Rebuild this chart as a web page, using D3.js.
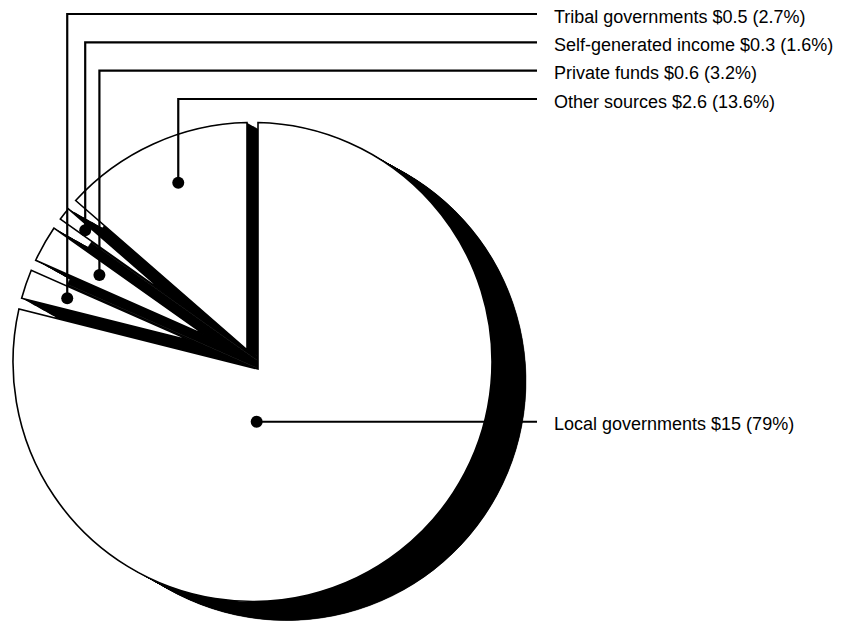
<!DOCTYPE html>
<html><head><meta charset="utf-8">
<script src="https://cdn.jsdelivr.net/npm/d3@7"></script>
<style>html,body{margin:0;padding:0;background:#fff;} svg{display:block}</style>
</head><body>
<svg id="chart" width="853" height="623"></svg>
<script>
// ---- data ----
const categories = ["Local governments", "Tribal governments", "Private funds", "Self-generated income", "Other sources"];
const amounts = ["$15", "$0.5", "$0.6", "$0.3", "$2.6"];
const percents = [79, 2.7, 3.2, 1.6, 13.6];
const percentLabels = ["79%", "2.7%", "3.2%", "1.6%", "13.6%"];
const labelRows = ["Tribal governments", "Self-generated income", "Private funds", "Other sources"];

// ---- layout ----
const W = 853, H = 623;
const cx = 252.5, cy = 362, R = 239.5, PAD = 5.5;
const SHADOW = {dx: 34, dy: 19};
const dotLayout = { // radius fraction and optional absolute angle (deg, clockwise from 12 o'clock)
  "Local governments": {f: 0.25, angle: 176},
  "Tribal governments": {f: 0.818},
  "Private funds": {f: 0.735},
  "Self-generated income": {f: 0.889},
  "Other sources": {f: 0.81, angle: 337.5}
};
const lineEndX = 537, textX = 554;
const FONT = "'Liberation Sans', Arial, Helvetica, sans-serif";

const data = categories.map((c, i) => ({cat: c, pct: percents[i], amt: amounts[i], plab: percentLabels[i]}));
const pie = d3.pie().sort(null).value(d => d.pct);
const arcs = pie(data);
const rScale = d3.scaleLinear().domain([0, 1]).range([0, R]);
const rowY = d3.scalePoint().domain(labelRows).range([14, 99]);
const fullArc = d3.arc().innerRadius(0).outerRadius(R);

function slicePath(d) {
  const a0 = d.startAngle, a1 = d.endAngle, da = a1 - a0, m = (a0 + a1) / 2;
  const r0 = PAD / Math.sin(da / 2);
  const vx = r0 * Math.sin(m), vy = -r0 * Math.cos(m);
  const dp = Math.asin(PAD / R);
  const s = a0 + dp, e = a1 - dp;
  const p = d3.path();
  p.moveTo(vx, vy);
  p.lineTo(R * Math.sin(s), -R * Math.cos(s));
  p.arc(0, 0, R, s - Math.PI / 2, e - Math.PI / 2);
  p.closePath();
  return p.toString();
}

const svg = d3.select("#chart");
svg.append("rect").attr("width", W).attr("height", H).attr("fill", "#fff");
const g = svg.append("g").attr("transform", `translate(${cx},${cy})`);

// drop shadow: whole pie offset + extruded slices
const sh = g.append("g").attr("class", "shadow");
sh.append("g").attr("transform", `translate(${SHADOW.dx},${SHADOW.dy})`)
  .selectAll("path").data(arcs).join("path")
  .attr("d", fullArc).attr("fill", "#000").attr("stroke", "#000").attr("stroke-width", 0.5);
d3.range(0, 1.0001, 1 / 40).forEach(t => {
  sh.append("g").attr("transform", `translate(${SHADOW.dx * t},${SHADOW.dy * t})`)
    .selectAll("path").data(arcs).join("path")
    .attr("d", slicePath).attr("fill", "#000");
});

// slices
g.append("g").selectAll("path").data(arcs).join("path")
  .attr("d", slicePath)
  .attr("fill", "#fff").attr("stroke", "#000").attr("stroke-width", 1.6)
  .attr("stroke-linejoin", "miter");

// leaders
const lead = svg.append("g");
arcs.forEach(a => {
  const L = dotLayout[a.data.cat];
  const ang = L.angle !== undefined ? L.angle * Math.PI / 180 : (a.startAngle + a.endAngle) / 2;
  const r = rScale(L.f);
  const x = cx + r * Math.sin(ang), y = cy - r * Math.cos(ang);
  const isRow = labelRows.includes(a.data.cat);
  const ly = isRow ? rowY(a.data.cat) : y;
  const pts = isRow ? [[x, y], [x, ly], [lineEndX, ly]] : [[x, y], [lineEndX, ly]];
  lead.append("path").attr("d", d3.line()(pts))
    .attr("fill", "none").attr("stroke", "#000").attr("stroke-width", 2.2);
  lead.append("circle").attr("cx", x).attr("cy", y).attr("r", 6).attr("fill", "#000");
  lead.append("text").attr("x", textX).attr("y", ly + 8.5)
    .attr("font-family", FONT).attr("font-size", 18).attr("fill", "#000")
    .text(`${a.data.cat} ${a.data.amt} (${a.data.plab})`);
});
</script>
</body></html>
